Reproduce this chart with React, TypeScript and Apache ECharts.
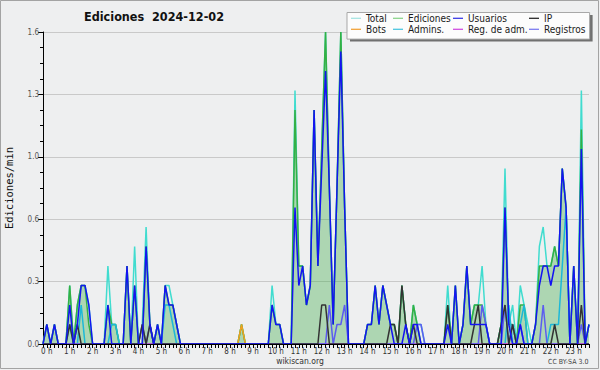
import { useEffect, useRef } from "react";
import * as echarts from "echarts";

const TITLE = "Ediciones  2024-12-02";
const Y_NAME = "Ediciones/min";
const FOOT_LEFT = "wikiscan.org";
const FOOT_RIGHT = "CC BY-SA 3.0";
const HOURS = [0, 1, 2, 3, 4, 5, 6, 7, 8, 9, 10, 11, 12, 13, 14, 15, 16, 17, 18, 19, 20, 21, 22, 23];
const SLOTS_PER_HOUR = 6; // one value every 10 minutes
const SLOT_COUNT = 144;
const Y_MAX = 1.6;
const Y_STEP = 0.32;

// Edits per minute, one row per hour (six 10-minute slots)
const total = [
  0, 0.1, 0, 0.1, 0, 0,
  0, 0.3, 0, 0.2, 0.3, 0.3,
  0.2, 0, 0, 0, 0, 0.4,
  0.1, 0.1, 0, 0, 0.4, 0,
  0.5, 0, 0.1, 0.6, 0.1, 0,
  0.1, 0, 0.3, 0.3, 0.2, 0.1,
  0, 0, 0, 0, 0, 0,
  0, 0, 0, 0, 0, 0,
  0, 0, 0, 0, 0.1, 0,
  0, 0, 0, 0, 0, 0,
  0.3, 0.1, 0.1, 0, 0, 0,
  1.3, 0.4, 0.4, 0.2, 0.3, 1.2,
  0.4, 1.0, 1.6, 0.8, 0.1, 0.8,
  1.6, 0.7, 0, 0, 0, 0,
  0, 0.1, 0.1, 0.3, 0.1, 0.3,
  0.2, 0.1, 0.1, 0, 0.3, 0.1,
  0, 0.2, 0.1, 0.1, 0, 0,
  0, 0, 0, 0, 0.3, 0,
  0.3, 0, 0.1, 0.4, 0.1, 0.2,
  0.2, 0.4, 0.1, 0, 0, 0,
  0.1, 0.9, 0.1, 0.2, 0, 0.3,
  0.2, 0.1, 0, 0.1, 0.5, 0.6,
  0.4, 0.4, 0.5, 0.4, 0.9, 0.7,
  0, 0.4, 0, 1.3, 0, 0.1,
];

const ediciones = [
  0, 0.1, 0, 0.1, 0, 0,
  0, 0.3, 0, 0.2, 0.3, 0.3,
  0.1, 0, 0, 0, 0, 0.2,
  0.1, 0.1, 0, 0, 0.4, 0,
  0.3, 0, 0, 0.5, 0.1, 0,
  0.1, 0, 0.3, 0.2, 0.2, 0.1,
  0, 0, 0, 0, 0, 0,
  0, 0, 0, 0, 0, 0,
  0, 0, 0, 0, 0.1, 0,
  0, 0, 0, 0, 0, 0,
  0.2, 0.1, 0.1, 0, 0, 0,
  1.2, 0.4, 0.4, 0.2, 0.3, 1.2,
  0.4, 1.0, 1.6, 0.8, 0.1, 0.8,
  1.6, 0.7, 0, 0, 0, 0,
  0, 0.1, 0.1, 0.3, 0.1, 0.3,
  0.2, 0.1, 0.1, 0, 0.3, 0.1,
  0, 0.2, 0.1, 0, 0, 0,
  0, 0, 0, 0, 0.2, 0,
  0.3, 0, 0.1, 0.4, 0.1, 0.2,
  0.2, 0.2, 0.1, 0, 0, 0,
  0.1, 0.7, 0.1, 0.1, 0, 0.2,
  0.2, 0, 0, 0.1, 0.4, 0.4,
  0.4, 0.4, 0.5, 0.4, 0.9, 0.7,
  0, 0.4, 0, 1.1, 0, 0.1,
];

const usuarios = [
  0, 0.1, 0, 0.1, 0, 0,
  0, 0.2, 0, 0.1, 0.3, 0.3,
  0.2, 0, 0, 0, 0, 0.2,
  0, 0, 0, 0, 0.4, 0,
  0.3, 0, 0, 0.5, 0.1, 0,
  0.1, 0, 0.3, 0.2, 0.2, 0.1,
  0, 0, 0, 0, 0, 0,
  0, 0, 0, 0, 0, 0,
  0, 0, 0, 0, 0, 0,
  0, 0, 0, 0, 0, 0,
  0.2, 0.1, 0.1, 0, 0, 0,
  0.7, 0.3, 0.4, 0.2, 0.3, 1.2,
  0.4, 0.9, 1.4, 0.8, 0.1, 0.8,
  1.5, 0.7, 0, 0, 0, 0,
  0, 0.1, 0.1, 0.3, 0.1, 0.3,
  0.2, 0.1, 0, 0, 0, 0.1,
  0, 0.1, 0.1, 0, 0, 0,
  0, 0, 0, 0, 0.1, 0,
  0.3, 0, 0.1, 0.4, 0.1, 0.1,
  0.1, 0.1, 0.1, 0, 0, 0,
  0, 0.7, 0.1, 0, 0, 0.1,
  0, 0, 0, 0.1, 0.3, 0.4,
  0.4, 0.3, 0.4, 0.4, 0.9, 0.7,
  0, 0.4, 0, 1.0, 0, 0.1,
];

// Sparse series: [slot index, edits per minute]
const ipPoints: [number, number][] = [
  [7, 0.1], [9, 0.1], [26, 0.1], [28, 0.1], [73, 0.2], [74, 0.2], [91, 0.1], [92, 0.1],
  [94, 0.3], [95, 0.1], [97, 0.1], [106, 0.2], [113, 0.1], [114, 0.2], [120, 0.1],
  [121, 0.2], [123, 0.1], [134, 0.1], [141, 0.2],
];
const adminPoints: [number, number][] = [
  [7, 0.1], [10, 0.2], [18, 0.1], [19, 0.1], [32, 0.2], [33, 0.2], [34, 0.1], [122, 0.2],
  [125, 0.1], [126, 0.2], [133, 0.1], [134, 0.1], [135, 0.1], [136, 0.4], [137, 0.7],
];
const registrosPoints: [number, number][] = [
  [26, 0.1], [28, 0.1], [75, 0.2], [77, 0.1], [78, 0.1], [79, 0.2], [98, 0.1], [99, 0.1],
  [115, 0.2], [116, 0.1], [121, 0.2], [123, 0.1], [125, 0.1], [131, 0.2], [141, 0.1],
];
const botsPoints: [number, number][] = [[52, 0.1]];
const regAdmPoints: [number, number][] = [];

const FONT = "'DejaVu Sans Condensed', 'Liberation Sans', sans-serif";

function expand(points: [number, number][]): number[] {
  const arr: number[] = [];
  for (let i = 0; i < SLOT_COUNT; i++) arr.push(0);
  points.forEach(([i, v]) => {
    arr[i] = v;
  });
  return arr;
}

function toPairs(values: number[]) {
  return values.map((v, i) => [i, v]);
}

export default function App() {
  const ref = useRef<HTMLDivElement>(null);

  useEffect(() => {
    document.body.style.margin = "0";
    if (!ref.current) return;
    const chart = echarts.init(ref.current, undefined, { renderer: "svg" });

    const lineSeries = (
      name: string,
      values: number[],
      color: string,
      z: number,
      extra: any = {}
    ) => ({
      name,
      type: "line",
      data: toPairs(values),
      symbol: "none",
      z,
      lineStyle: { color, width: 1.5 },
      itemStyle: { color },
      ...extra,
    });

    const legendCommon = {
      orient: "vertical",
      top: 12.8,
      z: 30,
      itemWidth: 10,
      itemHeight: 1.3,
      itemGap: 0,
      padding: 0,
      icon: "rect",
      selectedMode: false,
      textStyle: { fontSize: 10, lineHeight: 11, color: "#1a1a1a", fontFamily: FONT },
    };

    chart.setOption({
      animation: false,
      backgroundColor: "#eeeff0",
      grid: { left: 43, right: 11, top: 32, bottom: 26 },
      xAxis: {
        type: "value",
        min: 0,
        max: SLOT_COUNT - 1,
        interval: 1,
        z: 10,
        axisLine: { lineStyle: { color: "#000", width: 1 } },
        axisTick: { show: true, length: 4, lineStyle: { color: "#000" } },
        splitLine: { show: false },
        axisLabel: {
          customValues: HOURS.map((h) => h * SLOTS_PER_HOUR + 1),
          formatter: (v: number) => `${Math.round((v - 1) / SLOTS_PER_HOUR)} h`,
          fontSize: 8,
          fontFamily: FONT,
          color: "#333",
          margin: 3,
        },
      },
      yAxis: {
        type: "value",
        min: 0,
        max: Y_MAX,
        interval: Y_STEP,
        axisLine: { show: true, lineStyle: { color: "#000", width: 1 } },
        axisTick: { show: true, length: 5, lineStyle: { color: "#000" } },
        minorTick: { show: true, splitNumber: 4, length: 3, lineStyle: { color: "#000" } },
        splitLine: { show: true, lineStyle: { color: "#c9c9c9", width: 1 } },
        axisLabel: {
          formatter: (v: number) => v.toFixed(1),
          fontSize: 8,
          fontFamily: FONT,
          color: "#555",
          margin: 4,
        },
      },
      legend: [
        {
          ...legendCommon,
          left: 351,
          data: [
            { name: "Total", itemStyle: { color: "#a6e4e2" } },
            { name: "Bots", itemStyle: { color: "#f2a33a" } },
          ],
        },
        {
          ...legendCommon,
          left: 393,
          data: [
            { name: "Ediciones", itemStyle: { color: "#8cd48c" } },
            { name: "Admins.", itemStyle: { color: "#4cc6e0" } },
          ],
        },
        {
          ...legendCommon,
          left: 453,
          data: [
            { name: "Usuarios", itemStyle: { color: "#3c3ce6" } },
            { name: "Reg. de adm.", itemStyle: { color: "#d04ee0" } },
          ],
        },
        {
          ...legendCommon,
          left: 529,
          data: [
            { name: "IP", itemStyle: { color: "#2a2a2a" } },
            { name: "Registros", itemStyle: { color: "#7c7cf0" } },
          ],
        },
      ],
      series: [
        lineSeries("Total", total, "#40dccf", 2),
        lineSeries("Ediciones", ediciones, "#34b044", 3, {
          areaStyle: { color: "rgba(52,168,62,0.5)" },
        }),
        lineSeries("Bots", expand(botsPoints), "#f0a020", 4),
        lineSeries("Admins.", expand(adminPoints), "#1cb8d8", 4),
        lineSeries("Reg. de adm.", expand(regAdmPoints), "#d040d8", 4),
        lineSeries("Registros", expand(registrosPoints), "#5c5cf0", 4),
        lineSeries("IP", expand(ipPoints), "#333333", 5),
        lineSeries("Usuarios", usuarios, "#1414f2", 6),
      ],
      graphic: [
        {
          type: "rect",
          z: 0,
          silent: true,
          shape: { x: 0.5, y: 0.5, width: 598, height: 368 },
          style: { fill: "none", stroke: "#a3a3a3", lineWidth: 1 },
        },
        {
          type: "rect",
          z: 20,
          silent: true,
          shape: { x: 350, y: 15, width: 242.6, height: 26.6 },
          style: { fill: "#707070" },
        },
        {
          type: "rect",
          z: 21,
          silent: true,
          shape: { x: 347, y: 12.5, width: 242.6, height: 26.6 },
          style: { fill: "#fcfcfc", stroke: "#a8a8a8", lineWidth: 1 },
        },
        {
          type: "text",
          z: 22,
          x: 154,
          y: 16.5,
          style: {
            text: TITLE,
            fill: "#111",
            font: `bold 12.5px ${FONT}`,
            textAlign: "center",
            textVerticalAlign: "middle",
          },
        },
        {
          type: "text",
          z: 22,
          x: 9,
          y: 188,
          rotation: Math.PI / 2,
          style: {
            text: Y_NAME,
            fill: "#111",
            font: "10.5px 'DejaVu Sans Mono', monospace",
            textAlign: "center",
            textVerticalAlign: "middle",
          },
        },
        {
          type: "text",
          z: 22,
          x: 300,
          y: 361,
          style: {
            text: FOOT_LEFT,
            fill: "#333",
            font: `8.5px ${FONT}`,
            textAlign: "center",
            textVerticalAlign: "middle",
          },
        },
        {
          type: "text",
          z: 22,
          x: 588.5,
          y: 362,
          style: {
            text: FOOT_RIGHT,
            fill: "#444",
            font: `7px ${FONT}`,
            textAlign: "right",
            textVerticalAlign: "middle",
          },
        },
      ],
    });

    return () => chart.dispose();
  }, []);

  return <div ref={ref} style={{ width: 600, height: 370 }} />;
}
